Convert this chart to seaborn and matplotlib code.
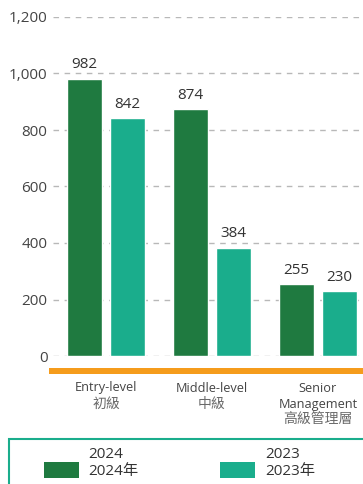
import matplotlib
matplotlib.use("Agg")
import matplotlib.pyplot as plt
import seaborn as sns
import pandas as pd
import matplotlib.transforms as mtrans
from matplotlib.patches import Rectangle
from matplotlib.ticker import FuncFormatter

categories = ["Entry-level", "Middle-level", "Senior Management"]
cat_lines = [["Entry-level", "初級"], ["Middle-level", "中級"], ["Senior", "Management", "高級管理層"]]
years = ["2024", "2023"]
values_2024 = [982, 874, 255]
values_2023 = [842, 384, 230]
legend_labels = [["2024", "2024年"], ["2023", "2023年"]]
yticks = [0, 200, 400, 600, 800, 1000, 1200]

colors = {"2024": "#1f7a40", "2023": "#1aad8c"}
orange = "#f59c1c"
fonts = ["Open Sans", "Noto Sans CJK TC", "DejaVu Sans"]

sns.set_theme(style="white")
plt.rcParams["font.family"] = fonts

W, H = 363, 484
fig = plt.figure(figsize=(W / 100, H / 100), dpi=100)

def fx(px):
    return px / W

def fy(py):
    return 1 - py / H

ax = fig.add_axes([fx(53), fy(356), 1 - fx(53), fy(17) - fy(356)])

df = pd.DataFrame({
    "category": categories * 2,
    "year": ["2024"] * 3 + ["2023"] * 3,
    "value": values_2024 + values_2023,
})

sns.barplot(data=df, x="category", y="value", hue="year", hue_order=years,
            order=categories, palette=colors, width=0.81, gap=0.19,
            saturation=1, legend=False, ax=ax)

for cont in ax.containers:
    ax.bar_label(cont, labels=[f"{int(v)}" for v in cont.datavalues],
                 padding=4.5, fontsize=11, color="#333333")

ax.set_ylim(0, 1200)
ax.set_xlim(-0.5, 2.425)
ax.set_yticks(yticks)
ax.yaxis.set_major_formatter(FuncFormatter(lambda v, p: f"{v:,.0f}"))
ax.tick_params(axis="y", length=0, pad=4, labelsize=11, labelcolor="#444444")
ax.set_xticks([])
ax.set_xlabel("")
ax.set_ylabel("")
for s in ax.spines.values():
    s.set_visible(False)
ax.set_axisbelow(True)
ax.yaxis.grid(True, linestyle=(0, (4, 4)), color="#b8b8b8", linewidth=1)

# orange baseline
fig.add_artist(Rectangle((fx(49), fy(374)), 1 - fx(49), fy(368) - fy(374),
                         transform=fig.transFigure, color=orange, lw=0))

# category labels
trans = mtrans.blended_transform_factory(ax.transData, fig.transFigure)
line_y = [388, 404.5, 420]
for i, lines in enumerate(cat_lines):
    for j, t in enumerate(lines):
        is_zh = any(ord(c) > 0x2E80 for c in t)
        ax.text(i, fy(line_y[j]), t, transform=trans, ha="center", va="center",
                fontsize=10 if is_zh else 9.2,
                color="#6a6a6a" if is_zh else "#444444",
                clip_on=False)

# legend box
fig.add_artist(Rectangle((fx(9), fy(495)), 1.2, fy(439) - fy(495),
                         transform=fig.transFigure, facecolor="none",
                         edgecolor="#1aad8c", lw=1.5))
patch_x = [44, 220]
text_x = [88, 265]
for k, y in enumerate(years):
    fig.add_artist(Rectangle((fx(patch_x[k]), fy(478)), fx(35), fy(462) - fy(478),
                             transform=fig.transFigure, color=colors[y], lw=0))
    fig.text(fx(text_x[k]), fy(455), legend_labels[k][0], ha="left", va="center",
             fontsize=11, color="#333333")
    fig.text(fx(text_x[k]), fy(472), legend_labels[k][1], ha="left", va="center",
             fontsize=11, color="#333333")

fig.savefig("out.png", dpi=100)
